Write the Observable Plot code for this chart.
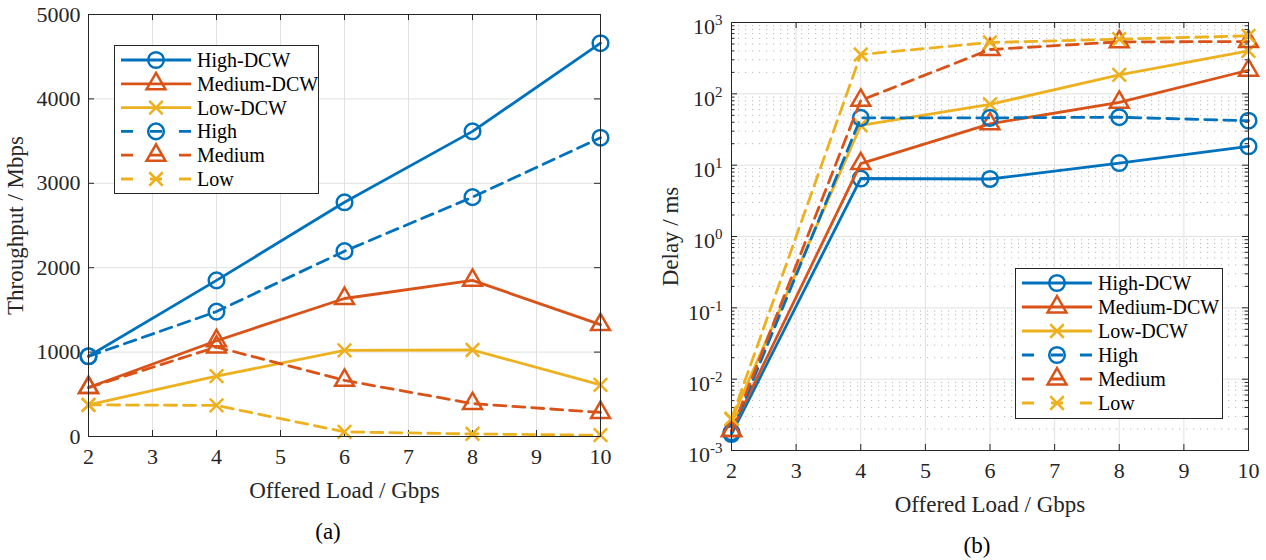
<!DOCTYPE html>
<html>
<head>
<meta charset="utf-8">
<script src="https://cdn.jsdelivr.net/npm/d3@7"></script>
<script src="https://cdn.jsdelivr.net/npm/@observablehq/plot@0.6"></script>
<style>
  body { margin: 0; background: #fff; }
  #wrap { position: relative; width: 1266px; height: 560px; overflow: hidden;
          font-family: "Liberation Serif", "Times New Roman", serif; color: #262626; }
  .panel { position: absolute; top: 0; }
  .panel svg { display: block; }
  .panel svg text, .leg text { font-family: "Liberation Serif", "Times New Roman", serif; }
  .cap { position: absolute; font-size: 23px; transform: translate(-50%, -50%); color: #000; }
</style>
</head>
<body>
<div id="wrap">
  <div id="pa" class="panel" style="left:0px"></div>
  <div id="pb" class="panel" style="left:640px"></div>
  <div class="cap" style="left:328px; top:532px">(a)</div>
  <div class="cap" style="left:977px; top:546px">(b)</div>
</div>
<script>
// ---------------- data ----------------
const loads = [2, 4, 6, 8, 10];
const seriesNames = ["High-DCW", "Medium-DCW", "Low-DCW", "High", "Medium", "Low"];

// (a) Throughput / Mbps
const thrHighDCW   = [950, 1850, 2775, 3615, 4660];
const thrMediumDCW = [580, 1135, 1635, 1850, 1325];
const thrLowDCW    = [375, 715, 1020, 1025, 612];
const thrHigh      = [950, 1480, 2196, 2836, 3540];
const thrMedium    = [580, 1060, 665, 390, 285];
const thrLow       = [375, 368, 55, 30, 15];

// (b) Delay / ms
const delayHighDCW   = [0.0017, 6.5, 6.4, 10.7, 18.4];
const delayMediumDCW = [0.0019, 10.5, 38, 76, 214];
const delayLowDCW    = [0.0027, 36, 71, 184, 400];
const delayHigh      = [0.0018, 46, 46, 47, 42];
const delayMedium    = [0.0019, 81, 418, 535, 540];
const delayLow       = [0.0028, 356, 525, 583, 649];

// ticks
const xTicks = [2, 3, 4, 5, 6, 7, 8, 9, 10];
const yTicksA = [0, 1000, 2000, 3000, 4000, 5000];
const yTicksB = [1e-3, 1e-2, 1e-1, 1e0, 1e1, 1e2, 1e3];
const yTickLabelsB = ["10^-3", "10^-2", "10^-1", "10^0", "10^1", "10^2", "10^3"];

// ---------------- style ----------------
const FONT = '"Liberation Serif", "Times New Roman", serif';
const AXIS = "#262626";
const GRID = "#e1e1e1";
const colors = { High: "#0072BD", Medium: "#D95319", Low: "#EDB120" };
const symbolOf = { High: "circle", Medium: "triangle", Low: "times" };
const rOf = { High: 7.8, Medium: 7, Low: 6.2 };
const DASH = "12,7";
const LW = 2.8;
const MW = 2.5;

const throughput = [thrHighDCW, thrMediumDCW, thrLowDCW, thrHigh, thrMedium, thrLow];
const delay = [delayHighDCW, delayMediumDCW, delayLowDCW, delayHigh, delayMedium, delayLow];
const series = seriesNames.map((name, i) => {
  const level = name.replace("-DCW", "");
  return { name, level, dashed: !name.includes("DCW"), thr: throughput[i], delay: delay[i] };
});

function seriesMarks(key) {
  const marks = [];
  for (const s of series) {
    const rows = loads.map((x, i) => ({ x, y: s[key][i], name: s.name }));
    marks.push(Plot.line(rows, {
      x: "x", y: "y", stroke: colors[s.level], strokeWidth: LW,
      strokeDasharray: s.dashed ? DASH : undefined, strokeLinejoin: "round"
    }));
    marks.push(Plot.dot(rows, {
      x: "x", y: "y", symbol: symbolOf[s.level], r: rOf[s.level],
      stroke: colors[s.level], strokeWidth: MW, fill: "none"
    }));
  }
  return marks;
}

function inwardTicks(xs, ys, plotW, plotH, len) {
  const m = [];
  if (xs) {
    m.push(Plot.ruleX(xs, { x: d => d, insetTop: plotH - len, stroke: AXIS, strokeWidth: 1 }));
    m.push(Plot.ruleX(xs, { x: d => d, insetBottom: plotH - len, stroke: AXIS, strokeWidth: 1 }));
  }
  if (ys) {
    m.push(Plot.ruleY(ys, { y: d => d, insetRight: plotW - len, stroke: AXIS, strokeWidth: 1 }));
    m.push(Plot.ruleY(ys, { y: d => d, insetLeft: plotW - len, stroke: AXIS, strokeWidth: 1 }));
  }
  return m;
}

function fixLabels(svg) {
  d3.select(svg).selectAll('g[aria-label="x-axis label"], g[aria-label="y-axis label"]')
    .attr("font-size", 23).selectAll("text").attr("font-size", 23);
  d3.select(svg).selectAll("text").attr("font-family", FONT);
}

// ---------------- panel (a) ----------------
const A = { w: 640, h: 520, ml: 88, mr: 40, mt: 14, mb: 84 };
const plotA = Plot.plot({
  width: A.w, height: A.h,
  marginLeft: A.ml, marginRight: A.mr, marginTop: A.mt, marginBottom: A.mb,
  style: { fontFamily: FONT, fontSize: "22px", color: AXIS, background: "transparent", overflow: "visible" },
  x: { domain: [2, 10] },
  y: { domain: [0, 5000] },
  marks: [
    Plot.gridX(xTicks, { stroke: GRID, strokeOpacity: 1, strokeWidth: 1 }),
    Plot.gridY(yTicksA, { stroke: GRID, strokeOpacity: 1, strokeWidth: 1 }),
    ...inwardTicks(xTicks, yTicksA, A.w - A.ml - A.mr, A.h - A.mt - A.mb, 6),
    ...seriesMarks("thr"),
    Plot.frame({ stroke: AXIS, strokeWidth: 1 }),
    Plot.axisX(xTicks, { tickSize: 0, tickPadding: 12, tickFormat: d => String(d),
      label: "Offered Load / Gbps", labelAnchor: "center", labelOffset: 61, labelArrow: "none" }),
    Plot.axisY(yTicksA, { tickSize: 0, tickPadding: 8, tickFormat: d => String(d),
      label: "Throughput / Mbps", labelAnchor: "center", labelOffset: 82, labelArrow: "none" })
  ]
});
fixLabels(plotA);
document.getElementById("pa").append(plotA);

// ---------------- panel (b) ----------------
const B = { w: 626, h: 520, ml: 91, mr: 18, mt: 22, mb: 70 };
const decades = d3.range(-3, 3);
const minorB = decades.flatMap(e => d3.range(2, 10).map(k => k * Math.pow(10, e)));
const plotB = Plot.plot({
  width: B.w, height: B.h,
  marginLeft: B.ml, marginRight: B.mr, marginTop: B.mt, marginBottom: B.mb,
  style: { fontFamily: FONT, fontSize: "22px", color: AXIS, background: "transparent", overflow: "visible" },
  x: { domain: [2, 10] },
  y: { type: "log", domain: [1e-3, 1e3] },
  marks: [
    Plot.ruleY(minorB, { stroke: "#b8b8b8", strokeWidth: 1, strokeDasharray: "1.2,5.8" }),
    Plot.gridX(xTicks, { stroke: GRID, strokeOpacity: 1, strokeWidth: 1 }),
    Plot.gridY(yTicksB, { stroke: GRID, strokeOpacity: 1, strokeWidth: 1 }),
    ...inwardTicks(xTicks, yTicksB, B.w - B.ml - B.mr, B.h - B.mt - B.mb, 6),
    ...inwardTicks(null, minorB, B.w - B.ml - B.mr, B.h - B.mt - B.mb, 3.5),
    ...seriesMarks("delay"),
    Plot.frame({ stroke: AXIS, strokeWidth: 1 }),
    Plot.axisX(xTicks, { tickSize: 0, tickPadding: 12, tickFormat: d => String(d),
      label: "Offered Load / Gbps", labelAnchor: "center", labelOffset: 61, labelArrow: "none" }),
    Plot.axisY(yTicksB, { tickSize: 0, tickPadding: 9,
      tickFormat: d => yTickLabelsB[yTicksB.indexOf(d)],
      label: "Delay / ms", labelAnchor: "center", labelOffset: 70, labelArrow: "none" })
  ]
});
fixLabels(plotB);
// superscript exponents on the log axis
d3.select(plotB).selectAll('g[aria-label="y-axis tick label"] text').each(function () {
  const t = this.textContent;
  if (!t.includes("^")) return;
  const [base, exp] = t.split("^");
  const sel = d3.select(this);
  sel.text(null);
  sel.append("tspan").attr("dy", "0.22em").text(base);
  sel.append("tspan").attr("dy", "-0.6em").attr("font-size", "15px").text(exp);
});
document.getElementById("pb").append(plotB);

// ---------------- legends ----------------
function legend(left, top, w, h, row0, step) {
  const svg = d3.create("svg")
    .attr("class", "leg")
    .attr("width", w).attr("height", h)
    .style("position", "absolute").style("left", left + "px").style("top", top + "px");
  svg.append("rect").attr("x", 0.5).attr("y", 0.5).attr("width", w - 1).attr("height", h - 1)
    .attr("fill", "#fff").attr("stroke", AXIS).attr("stroke-width", 1);
  series.forEach((s, i) => {
    const cy = row0 + i * step;
    const g = svg.append("g").attr("transform", `translate(0,${cy})`);
    g.append("line").attr("x1", 7).attr("x2", 77).attr("y1", 0).attr("y2", 0)
      .attr("stroke", colors[s.level]).attr("stroke-width", LW)
      .attr("stroke-dasharray", s.dashed ? "12,17" : null);
    const symType = { circle: d3.symbolCircle, triangle: d3.symbolTriangle, times: d3.symbolTimes }[symbolOf[s.level]];
    const r = rOf[s.level];
    g.append("path").attr("transform", "translate(42,0)")
      .attr("d", d3.symbol(symType, Math.PI * r * r)())
      .attr("fill", "none").attr("stroke", colors[s.level]).attr("stroke-width", MW);
    g.append("text").attr("x", 83).attr("y", 0).attr("dy", "0.35em")
      .attr("font-family", FONT).attr("font-size", 20).attr("fill", "#000").text(s.name);
  });
  document.getElementById("wrap").append(svg.node());
}
legend(114, 45, 205, 149, 15, 23.8);
legend(1015, 268, 208, 151, 15, 24);
</script>
</body>
</html>
